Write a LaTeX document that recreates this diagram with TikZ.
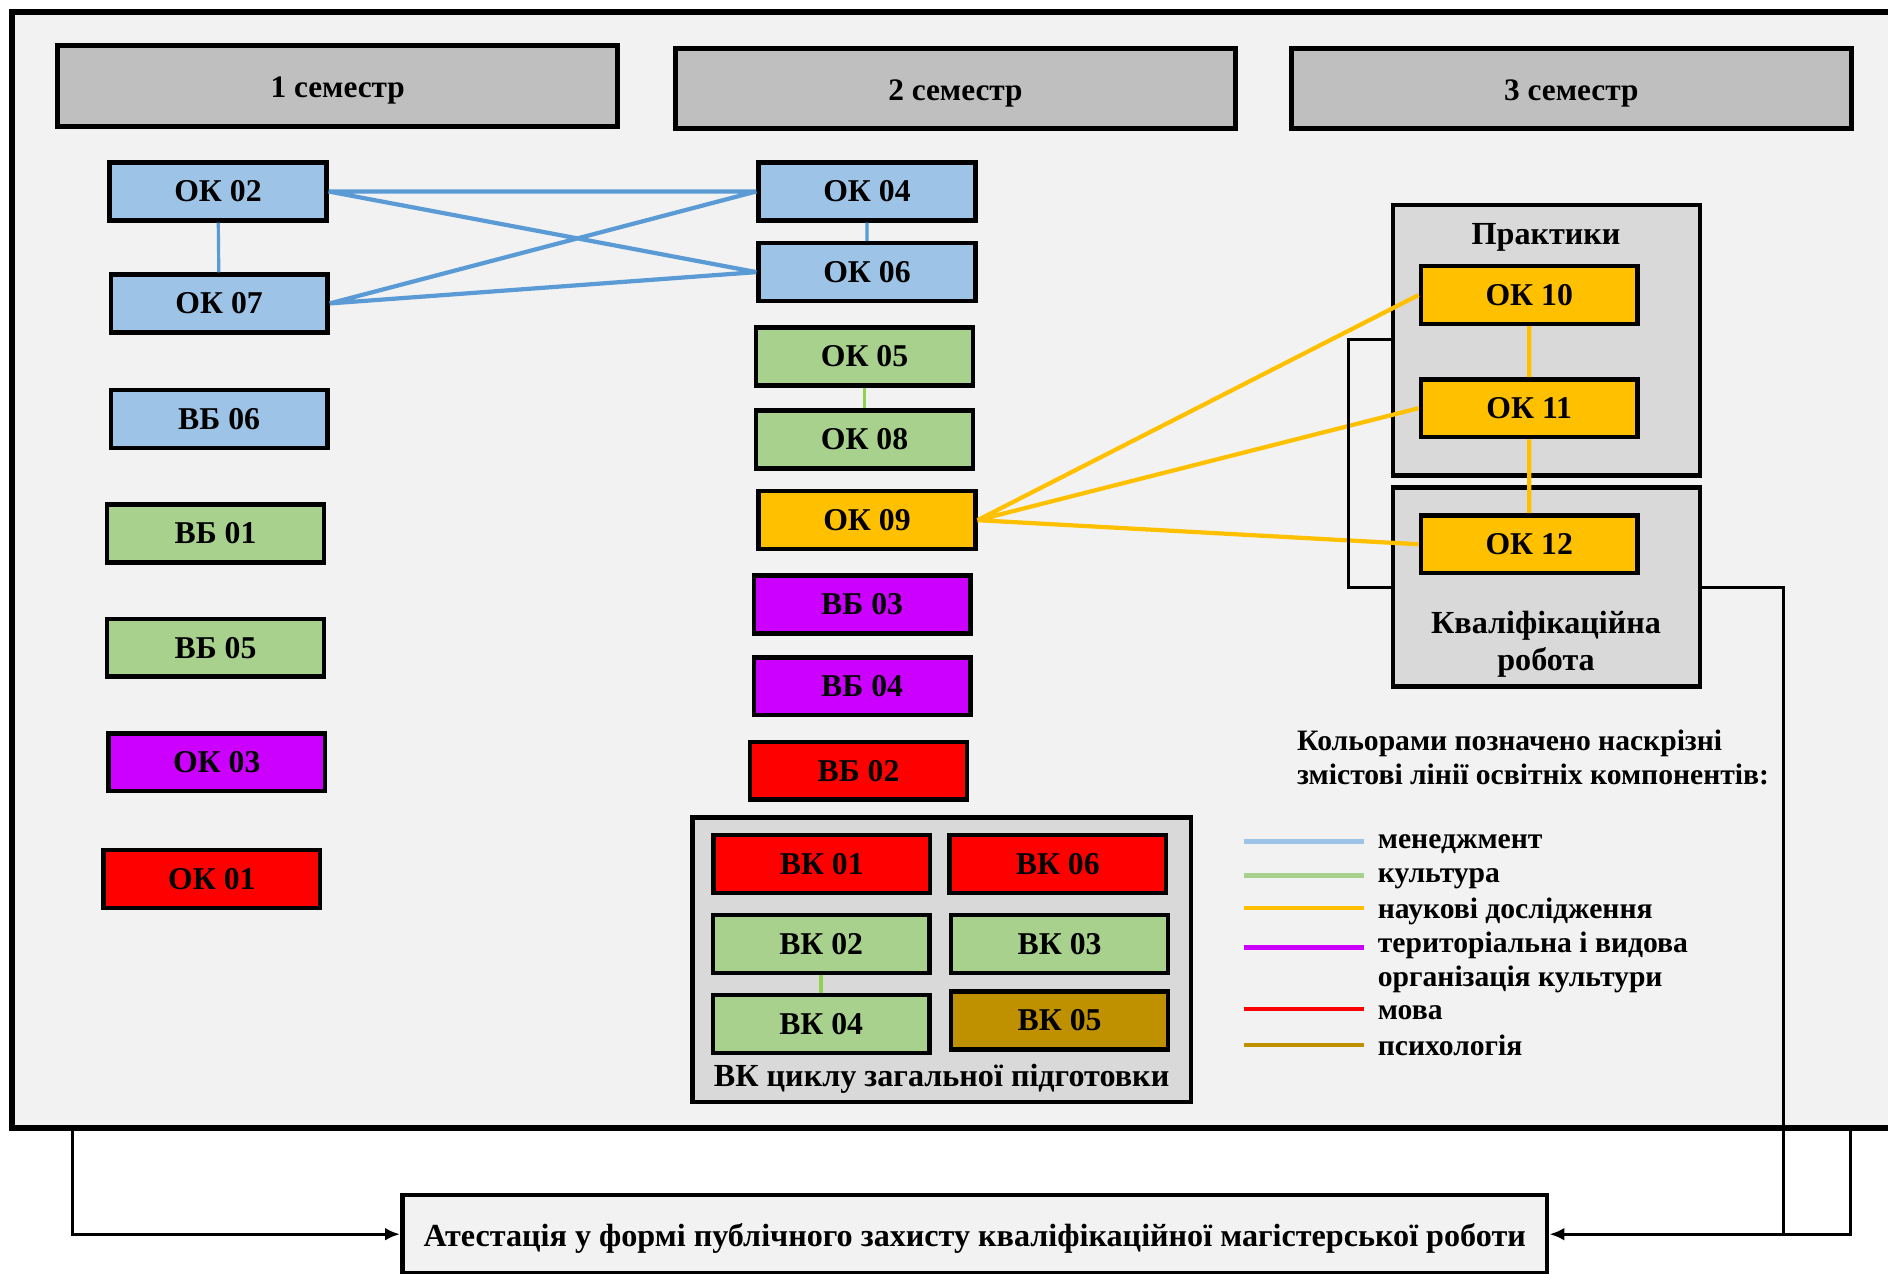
\documentclass[tikz,border=0pt]{standalone}
\usepackage{fontspec}
\setmainfont{Liberation Serif}
\usetikzlibrary{arrows.meta}
\definecolor{bgc}{HTML}{F2F2F2}
\definecolor{headc}{HTML}{BFBFBF}
\definecolor{grpc}{HTML}{D9D9D9}
\definecolor{mblue}{HTML}{9DC3E6}
\definecolor{mgreen}{HTML}{A9D18E}
\definecolor{morange}{HTML}{FFC000}
\definecolor{mpurple}{HTML}{CC00FF}
\definecolor{mred}{HTML}{FF0000}
\definecolor{mbrown}{HTML}{BF9000}
\definecolor{lnblue}{HTML}{5B9BD5}
\definecolor{lngreen}{HTML}{92D050}

\begin{document}
\begin{tikzpicture}[x=0.02cm,y=-0.02cm,
  box/.style={draw=black,line width=2.1pt,minimum width=3.6cm,minimum height=0.96cm,
    inner sep=0pt,font=\fontsize{15}{17}\selectfont\bfseries},
  semhead/.style={draw=black,line width=2.4pt,fill=headc,minimum width=9.3cm,
    minimum height=1.34cm,text height=14.5pt,text depth=3.3pt,
    font=\fontsize{14.8}{17}\selectfont\bfseries},
  grpbox/.style={draw=black,line width=2.1pt,fill=grpc,inner sep=0pt},
  lbl/.style={font=\fontsize{15.2}{17.6}\selectfont\bfseries,align=center},
  legtext/.style={anchor=west,inner sep=0pt,font=\fontsize{14}{16}\selectfont\bfseries,align=left},
  link/.style={draw=black,line width=1.4pt},
  bluelink/.style={draw=lnblue,line width=2pt},
  ylink/.style={draw=morange,line width=2pt}]
\useasboundingbox[fill=white] (0,0) rectangle (1568,1058);
% outer frame
\draw[line width=2.8pt,fill=bgc] (10,10) rectangle (1620,937);
\coordinate (fl) at (60,937);
\coordinate (fr) at (1537,937);
\coordinate (kj) at (1481,1025);
% semesters
\node[semhead] (sem1) at (280.5,71.5) {1 семестр};
\node[semhead] (sem2) at (793.5,73.5) {2 семестр};
\node[semhead] (sem3) at (1305,73.5) {3 семестр};
% groups
\node[grpbox,minimum width=8.28cm,minimum height=4.72cm] (vkgrp) at (782,797) {};
\node[grpbox,minimum width=5.1cm,minimum height=4.5cm] (prak) at (1284.5,282.5) {};
\node[grpbox,minimum width=5.1cm,minimum height=3.3cm] (kval) at (1284.5,487.5) {};
\node[lbl] at (782,896) {ВК циклу загальної підготовки};
\node[lbl] at (1284,197) {Практики};
\node[lbl] at (1284,535) {Кваліфікаційна\\робота};
% 1 semester
\node[box,fill=mblue] (ok02) at (181,159) {ОК 02};
\node[box,fill=mblue] (ok07) at (182,252) {ОК 07};
\node[box,fill=mblue] (vb06) at (182,348) {ВБ 06};
\node[box,fill=mgreen] (vb01) at (179,443) {ВБ 01};
\node[box,fill=mgreen] (vb05) at (179,538) {ВБ 05};
\node[box,fill=mpurple] (ok03) at (180,633) {ОК 03};
\node[box,fill=mred] (ok01) at (176,730) {ОК 01};
% 2 semester
\node[box,fill=mblue] (ok04) at (720,159) {ОК 04};
\node[box,fill=mblue] (ok06) at (720,226) {ОК 06};
\node[box,fill=mgreen] (ok05) at (718,296) {ОК 05};
\node[box,fill=mgreen] (ok08) at (718,365) {ОК 08};
\node[box,fill=morange] (ok09) at (720,432) {ОК 09};
\node[box,fill=mpurple] (vb03) at (716,502) {ВБ 03};
\node[box,fill=mpurple] (vb04) at (716,570) {ВБ 04};
\node[box,fill=mred] (vb02) at (713,640) {ВБ 02};
\node[box,fill=mred] (vk01) at (682.5,717.5) {ВК 01};
\node[box,fill=mred] (vk06) at (878.5,717.5) {ВК 06};
\node[box,fill=mgreen] (vk02) at (682,784) {ВК 02};
\node[box,fill=mgreen] (vk03) at (880,784) {ВК 03};
\node[box,fill=mgreen] (vk04) at (682,850.5) {ВК 04};
\node[box,fill=mbrown] (vk05) at (880,847.5) {ВК 05};
% 3 semester
\node[box,fill=morange] (ok10) at (1270,245) {ОК 10};
\node[box,fill=morange] (ok11) at (1270,339) {ОК 11};
\node[box,fill=morange] (ok12) at (1270,452) {ОК 12};
% attestation
\node[draw=black,line width=2.2pt,fill=bgc,minimum width=19.02cm,minimum height=1.3cm,
  text height=14.5pt,text depth=3.3pt,
  font=\fontsize{15.2}{17}\selectfont\bfseries] (atest) at (809.5,1025) 
  {Атестація у формі публічного захисту кваліфікаційної магістерської роботи};
% content lines
\draw[bluelink] (ok02.east) -- (ok04.west) (ok02.east) -- (ok06.west)
      (ok07.east) -- (ok04.west) (ok07.east) -- (ok06.west);
\draw[draw=lnblue,line width=1.5pt] (ok02) -- (ok07) (ok04) -- (ok06);
\draw[draw=lngreen,line width=1.8pt] (ok05) -- (ok08) (vk02) -- (vk04);
\draw[ylink] (ok09.east) -- (ok10.west) (ok09.east) -- (ok11.west)
      (ok09.east) -- (ok12.west) (ok10) -- (ok11) (ok11) -- (ok12);
% bracket and arrows
\draw[link] (prak.west |- 0,282) -- (1120,282) |- (kval.west |- 0,488);
\draw[link] (kval.east |- 0,488) -| (kj);
\draw[link,-{Latex[length=7pt,width=6pt]}] (fl) |- (atest.west);
\draw[link,-{Latex[length=7pt,width=6pt]}] (fr) |- (atest.east);
% legend
\node[legtext] (legt) at (1077,629) {Кольорами позначено наскрізні\\змістові лінії освітніх компонентів:};
\foreach \c/\y in {mblue/699,mgreen/727,morange/754,mpurple/787,mred/838,mbrown/868}
  \draw[\c,line width=2.2pt] (1033,\y) -- (1133,\y);
\node[legtext] at (1144,701) {менеджмент};
\node[legtext] at (1144,730) {культура};
\node[legtext] at (1144,757) {наукові дослідження};
\node[legtext] at (1144,799) {територіальна і видова\\організація культури};
\node[legtext] at (1144,841) {мова};
\node[legtext] at (1144,868) {психологія};
\end{tikzpicture}
\end{document}
